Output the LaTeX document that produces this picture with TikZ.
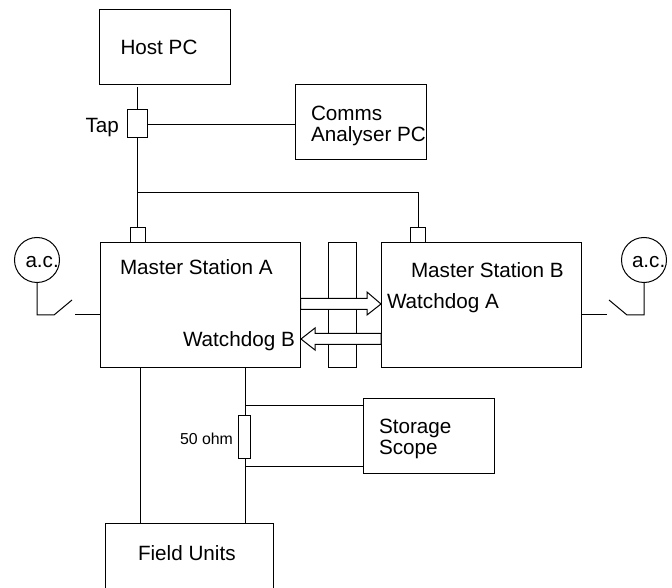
\documentclass[tikz,border=0pt]{standalone}
\usepackage{fontspec}
\setmainfont{Liberation Sans}
\tikzset{
  boxn/.style={draw,rectangle,inner sep=0pt,outer sep=0pt,line width=0.75pt},
  lab/.style={anchor=base west,inner sep=0pt,outer sep=0pt,font=\fontsize{15.5pt}{18pt}\selectfont},
  labs/.style={anchor=base west,inner sep=0pt,outer sep=0pt,font=\fontsize{11.9pt}{14pt}\selectfont},
  wire/.style={line width=0.75pt},
  bigarrow/.style={draw,fill=white,line width=0.75pt,line join=miter},
}
% name, x1, y1, x2, y2 in reference pixels
\newcommand{\bx}[5]{\node[boxn,minimum width={(#4-#2)*0.75pt},minimum height={(#5-#3)*0.75pt}] (#1) at ({(#2+#4)/2},{(#3+#5)/2}) {};}
\begin{document}
\begin{tikzpicture}[x=0.75pt,y=-0.75pt]
\useasboundingbox (0,0) rectangle (672,588);
% boxes
\bx{host}{99.5}{9.5}{230.5}{84.5}
\bx{comms}{295.5}{84.5}{426.5}{159.5}
\bx{tap}{127.5}{109.5}{147.5}{137.5}
\bx{portA}{130.5}{227.5}{145.5}{242.5}
\bx{portB}{410.5}{227.5}{425.5}{242.5}
\bx{msA}{100}{242.5}{300.5}{367.5}
\bx{bar}{328}{242.5}{356}{367.5}
\bx{msB}{381}{242.5}{581.5}{367.5}
\bx{res}{238}{415.5}{250.5}{458.5}
\bx{scope}{363.5}{398}{494}{473.5}
% field units box: runs past the picture's lower edge
\bx{field}{105}{523.5}{273}{610}
% a.c. sources
\node[boxn,circle,minimum size=45*0.75pt] (acL) at (37,260) {};
\node[boxn,circle,minimum size=45*0.75pt] (acR) at (644,260) {};
% free ends
\coordinate (swL1) at (54,315);
\coordinate (swL2) at (72,300);
\coordinate (swL3) at (75,315);
\coordinate (swR1) at (627,315);
\coordinate (swR2) at (609,300);
\coordinate (swR3) at (607,315);
\coordinate (bus) at (137.5,192.5);
\coordinate (fl) at (140,523.5);
\coordinate (rw) at (245.5,415.5);
\coordinate (rs) at (245.5,458.5);
\coordinate (sc1) at (245.5,405.5);
\coordinate (sc2) at (245.5,466);
\coordinate (tp) at (137.5,124.5);
% connectors
\draw[wire,shorten >=3*0.75pt] (tap.north) -- (host.south -| tap.north);
\draw[wire] (tap.east |- tp) -- (comms.west |- tp);
\draw[wire] (tap.south) -- (portA.north -| tap.south);
\draw[wire] (bus) -| (portB.north);
\draw[wire] (acL.south) |- (swL1) -- (swL2);
\draw[wire] (swL3) -- (msA.west |- swL3);
\draw[wire] (acR.south) |- (swR1) -- (swR2);
\draw[wire] (swR3) -- (msB.east |- swR3);
\draw[wire] (msA.south -| fl) -- (fl);
\draw[wire] (msA.south -| rw) -- (rw);
\draw[wire] (rs) -- (field.north -| rs);
\draw[wire] (sc1) -- (scope.west |- sc1);
\draw[wire] (sc2) -- (scope.west |- sc2);
% wide arrows
\draw[bigarrow] (300.5,298.5) -- (367,298.5) -- (367,292) -- (381,304) -- (367,315) -- (367,309.5) -- (300.5,309.5) -- cycle;
\draw[bigarrow] (381,333.5) -- (315,333.5) -- (315,328) -- (301,339) -- (315,350) -- (315,344.5) -- (381,344.5) -- cycle;
% labels
\node[lab] (tHost) at (120.5,54.8) {Host PC};
\node[lab] (tTap) at (85.5,132.8) {Tap};
\node[lab] (tCo1) at (311,120.8) {Comms};
\node[lab] (tCo2) at (311,141.8) {Analyser PC};
\node[lab] (tMA) at (120,274.8) {Master Station A};
\node[lab] (tMB) at (411,277.8) {Master Station B};
\node[lab] (tWB) at (183,346.8) {Watchdog B};
\node[lab] (tWA) at (387,308.8) {Watchdog A};
\node[lab] (tAcL) at (25.5,267.8) {a.c.};
\node[lab] (tAcR) at (632,267.8) {a.c.};
\node[labs] (tOhm) at (180,444.8) {50 ohm};
\node[lab] (tS1) at (379,433.8) {Storage};
\node[lab] (tS2) at (379,454.8) {Scope};
\node[lab] (tFU) at (138,560.8) {Field Units};
\end{tikzpicture}
\end{document}
